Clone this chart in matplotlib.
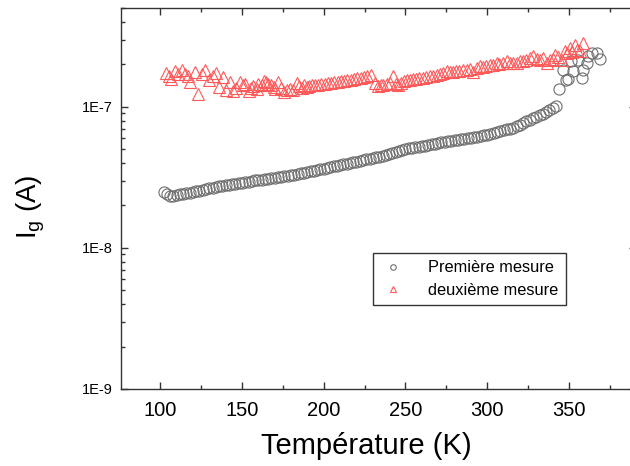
import matplotlib
matplotlib.use("Agg")
import matplotlib.pyplot as plt
from matplotlib.ticker import FixedLocator, FuncFormatter, MultipleLocator, NullFormatter
import numpy as np

plt.rcParams['font.family'] = ['Liberation Sans', 'DejaVu Sans']
plt.rcParams['mathtext.default'] = 'regular'

# Première mesure (open circles): temperature (K) and current (A)
t1 = [102, 104, 106, 108, 110, 112, 114, 116, 118, 120, 122, 124, 126, 128, 130,
      132, 134, 136, 138, 140, 142, 144, 146, 148, 150, 152, 154, 156, 158, 160,
      162, 164, 166, 168, 170, 172, 174, 176, 178, 180, 182, 184, 186, 188, 190,
      192, 194, 196, 198, 200, 202, 204, 206, 208, 210, 212, 214, 216, 218, 220,
      222, 224, 226, 228, 230, 232, 234, 236, 238, 240, 242, 244, 246, 248, 250,
      252, 254, 256, 258, 260, 262, 264, 266, 268, 270, 272, 274, 276, 278, 280,
      282, 284, 286, 288, 290, 292, 294, 296, 298, 300, 302, 304, 306, 308, 310,
      312, 314, 316, 318, 320, 322, 324, 326, 328, 330, 332, 334, 336, 338, 340,
      342, 344.0, 346.3, 348.2, 349.6, 351.2, 352.6, 355.5, 357.8, 358.7, 360.8,
      361.8, 363.9, 366.9, 369.0]
i1 = [2.48e-8, 2.43e-8, 2.35e-8, 2.34e-8, 2.39e-8, 2.41e-8, 2.43e-8, 2.45e-8, 2.47e-8, 2.49e-8,
      2.52e-8, 2.55e-8, 2.57e-8, 2.60e-8, 2.64e-8, 2.68e-8, 2.70e-8, 2.74e-8, 2.75e-8, 2.78e-8,
      2.81e-8, 2.83e-8, 2.86e-8, 2.88e-8, 2.90e-8, 2.93e-8, 2.95e-8, 2.97e-8, 3.01e-8, 3.03e-8,
      3.05e-8, 3.08e-8, 3.10e-8, 3.13e-8, 3.15e-8, 3.18e-8, 3.20e-8, 3.23e-8, 3.25e-8, 3.28e-8,
      3.31e-8, 3.34e-8, 3.38e-8, 3.42e-8, 3.46e-8, 3.50e-8, 3.53e-8, 3.56e-8, 3.61e-8, 3.65e-8,
      3.69e-8, 3.73e-8, 3.78e-8, 3.83e-8, 3.87e-8, 3.92e-8, 3.96e-8, 4.01e-8, 4.05e-8, 4.09e-8,
      4.14e-8, 4.20e-8, 4.25e-8, 4.29e-8, 4.33e-8, 4.38e-8, 4.43e-8, 4.47e-8, 4.53e-8, 4.60e-8,
      4.68e-8, 4.75e-8, 4.83e-8, 4.92e-8, 5.01e-8, 5.08e-8, 5.13e-8, 5.16e-8, 5.21e-8, 5.26e-8,
      5.31e-8, 5.37e-8, 5.44e-8, 5.50e-8, 5.56e-8, 5.62e-8, 5.68e-8, 5.71e-8, 5.75e-8, 5.81e-8,
      5.85e-8, 5.89e-8, 5.94e-8, 6.00e-8, 6.05e-8, 6.10e-8, 6.15e-8, 6.19e-8, 6.28e-8, 6.37e-8,
      6.46e-8, 6.55e-8, 6.64e-8, 6.73e-8, 6.82e-8, 6.92e-8, 7.02e-8, 7.11e-8, 7.29e-8, 7.50e-8,
      7.71e-8, 7.89e-8, 8.09e-8, 8.28e-8, 8.49e-8, 8.71e-8, 8.95e-8, 9.18e-8, 9.44e-8, 9.77e-8,
      1.01e-7, 1.33e-7, 1.84e-7, 1.56e-7, 1.58e-7, 2.10e-7, 1.79e-7, 2.16e-7, 1.61e-7, 1.84e-7,
      2.05e-7, 2.29e-7, 2.41e-7, 2.41e-7, 2.19e-7]

# deuxième mesure (open triangles)
t2 = [103.7, 105.5, 106.7, 109.2, 111.0, 113.3, 115.3, 117.0, 118.3, 121.4, 123.4, 125.5,
      127.5, 130.0, 132.0, 134.2, 136.2, 138.3, 140.3, 142.4, 144.4, 146.5, 148.9, 150.5,
      152.0, 154.0, 155.5, 157.0, 159.1, 160.1, 162.0, 163.2, 164.5, 166.2, 168.0, 169.3,
      170.3, 172.3, 174.0, 175.4, 177.8, 179.5, 181.1, 183.6, 185.0, 186.6, 188.0, 189.7,
      191.2, 192.7, 194.5, 196.5, 198.5, 200.5, 202.5, 204.5, 206.5, 208.5, 210.5, 212.5,
      214.5, 216.5, 218.5, 220.5, 222.5, 224.5, 226.5, 229.0, 231.5, 233.4, 235.0, 236.5,
      238.5, 240.5, 242.6, 244.0, 245.6, 247.5, 249.0, 250.7, 252.5, 254.8, 256.5, 258.5,
      260.5, 262.5, 265.0, 267.0, 269.0, 271.0, 273.0, 275.2, 277.0, 279.0, 281.0, 283.0,
      285.4, 287.5, 289.5, 291.5, 293.5, 295.6, 297.5, 299.5, 301.5, 303.5, 305.8, 307.5,
      309.5, 311.9, 314.0, 316.0, 318.0, 320.0, 322.0, 324.0, 326.2, 328.2, 330.2, 332.3,
      334.3, 336.4, 338.4, 340.0, 341.4, 343.5, 345.5, 347.6, 349.0, 350.6, 352.0, 353.7,
      355.0, 356.7, 358.7]
i2 = [1.75e-7, 1.66e-7, 1.58e-7, 1.79e-7, 1.70e-7, 1.82e-7, 1.72e-7, 1.66e-7, 1.49e-7, 1.76e-7,
      1.24e-7, 1.70e-7, 1.82e-7, 1.56e-7, 1.66e-7, 1.74e-7, 1.39e-7, 1.62e-7, 1.31e-7, 1.50e-7,
      1.29e-7, 1.36e-7, 1.49e-7, 1.42e-7, 1.46e-7, 1.29e-7, 1.36e-7, 1.40e-7, 1.33e-7, 1.46e-7,
      1.42e-7, 1.52e-7, 1.49e-7, 1.46e-7, 1.42e-7, 1.39e-7, 1.33e-7, 1.49e-7, 1.36e-7, 1.27e-7,
      1.31e-7, 1.35e-7, 1.31e-7, 1.48e-7, 1.40e-7, 1.36e-7, 1.42e-7, 1.39e-7, 1.40e-7, 1.42e-7,
      1.43e-7, 1.44e-7, 1.45e-7, 1.46e-7, 1.47e-7, 1.48e-7, 1.49e-7, 1.51e-7, 1.52e-7, 1.53e-7,
      1.55e-7, 1.56e-7, 1.58e-7, 1.59e-7, 1.61e-7, 1.63e-7, 1.65e-7, 1.69e-7, 1.47e-7, 1.40e-7,
      1.42e-7, 1.44e-7, 1.46e-7, 1.48e-7, 1.65e-7, 1.46e-7, 1.42e-7, 1.47e-7, 1.52e-7, 1.56e-7,
      1.55e-7, 1.58e-7, 1.57e-7, 1.59e-7, 1.61e-7, 1.62e-7, 1.65e-7, 1.66e-7, 1.68e-7, 1.70e-7,
      1.73e-7, 1.79e-7, 1.76e-7, 1.77e-7, 1.79e-7, 1.81e-7, 1.84e-7, 1.83e-7, 1.85e-7, 1.76e-7,
      1.88e-7, 1.94e-7, 1.92e-7, 1.94e-7, 1.97e-7, 1.99e-7, 2.05e-7, 2.02e-7, 2.04e-7, 2.10e-7,
      2.06e-7, 2.04e-7, 2.05e-7, 2.10e-7, 2.12e-7, 2.15e-7, 2.23e-7, 2.29e-7, 2.20e-7, 2.16e-7,
      2.23e-7, 2.05e-7, 2.16e-7, 2.20e-7, 2.35e-7, 2.25e-7, 2.16e-7, 2.48e-7, 2.40e-7, 2.62e-7,
      2.45e-7, 2.76e-7, 2.55e-7, 2.48e-7, 2.84e-7]

labels = ["Première mesure", "deuxième mesure"]
y_major = [1e-9, 1e-8, 1e-7]
y_minor = [m * d for d in y_major for m in range(2, 10) if m * d <= 5e-7]
y_tick_labels = ["1E-9", "1E-8", "1E-7"]

W, H = 630, 466
fig = plt.figure(figsize=(W / 100, H / 100), dpi=100)
ax = fig.add_axes([121 / W, 1 - 389 / H, (636 - 121) / W, (389 - 8.3) / H])

ax.plot(t1, i1, linestyle='none', marker='o', markersize=8, markerfacecolor='none',
        markeredgecolor='#6e6e6e', markeredgewidth=0.8, label=labels[0])
ax.plot(t2, i2, linestyle='none', marker='^', markersize=8.5, markerfacecolor='none',
        markeredgecolor='#ff5a5a', markeredgewidth=0.8, label=labels[1])

ax.set_yscale('log')
ax.set_xlim(76, 391)
ax.set_ylim(1e-9, 5e-7)

ax.xaxis.set_major_locator(MultipleLocator(50))
ax.xaxis.set_minor_locator(MultipleLocator(25))
ax.yaxis.set_major_locator(FixedLocator(y_major))
ax.yaxis.set_minor_locator(FixedLocator(y_minor))
ax.yaxis.set_minor_formatter(NullFormatter())
ax.set_yticks(y_major, y_tick_labels)

ax.tick_params(which='both', direction='in', top=True, right=True, color='#333333', width=1)
ax.tick_params(which='major', length=5)
ax.tick_params(which='minor', length=3)
ax.tick_params(axis='x', labelsize=14.5, pad=9)
ax.tick_params(axis='y', labelsize=10.5, pad=6)
for s in ax.spines.values():
    s.set_color('#333333')
    s.set_linewidth(1)

ax.set_xlabel("Température (K)", fontsize=21)
ax.xaxis.set_label_coords((366.5 - 121) / 515, -0.112)
ax.set_ylabel("I$_g$ (A)", fontsize=20)
ax.yaxis.set_label_coords((47 - 121) / 515, (389 - 207) / 381)

leg = ax.legend(loc='upper left', bbox_to_anchor=(373 / W, 1 - 253 / H),
                bbox_transform=fig.transFigure, fontsize=11.8, markerscale=0.5,
                frameon=True, fancybox=False, edgecolor='#333333', framealpha=1,
                borderpad=0.45, labelspacing=0.45, handletextpad=1.3, handlelength=1.6,
                borderaxespad=0)
leg.get_frame().set_linewidth(1)

fig.savefig("out.png", dpi=100)
